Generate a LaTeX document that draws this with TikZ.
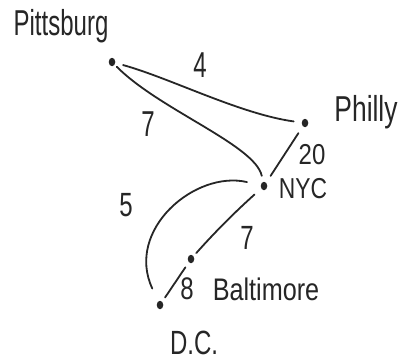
\documentclass[tikz,border=0pt]{standalone}
\usepackage{fontspec}
\setmainfont{Liberation Sans}
\usetikzlibrary{shapes.geometric}
\begin{document}
\begin{tikzpicture}[x=1pt,y=-1pt,
  dot/.style={fill=black!85,ellipse,inner sep=0pt,minimum width=6.5pt,minimum height=8.5pt},
  lbl/.style={inner sep=0pt,text=black!85,font=\fontsize{24}{24}\selectfont},
  edge/.style={draw=black!85,line width=1.8pt,line cap=round}]
\useasboundingbox (0,0) rectangle (403,361);
\fill[white] (0,0) rectangle (403,361);
% cities
\node[dot] (pit) at (112,62) {};
\node[dot] (phi) at (305,123) {};
\node[dot] (nyc) at (264,186) {};
\node[dot] (bal) at (191,259) {};
\node[dot] (dc)  at (160,305) {};
\node[lbl] (tpit) at (61,26) {\scalebox{1}[1.5]{Pittsburg}};
\node[lbl] (tphi) at (366,112) {\scalebox{1.1}[1.5]{Philly}};
\node[lbl] (tnyc) at (303,189) {\scalebox{0.95}[1.2]{NYC}};
\node[lbl] (tbal) at (266,289) {\scalebox{1.05}[1.3]{Baltimore}};
\node[lbl] (tdc)  at (194,343) {\scalebox{1}[1.4]{D.C.}};
% edges
\draw[edge,shorten <=8pt,shorten >=8pt] (pit) .. controls (170,78) and (240,114) .. (phi);
\draw[edge,shorten <=3pt,shorten >=6pt] (pit) .. controls (160,110) and (255,145) .. (nyc);
\draw[edge,shorten <=8pt,shorten >=8pt] (phi) -- (nyc);
\draw[edge,shorten <=14pt,shorten >=14pt] (nyc) .. controls (195,170) and (125,230) .. (dc);
\draw[edge,shorten <=9pt,shorten >=4pt] (nyc) .. controls (235,212) and (215,232) .. (bal);
\draw[edge,shorten <=6pt,shorten >=5pt] (bal) -- (dc);
% weights
\node[lbl] (w4)  at (200,65)  {\scalebox{1}[1.5]{4}};
\node[lbl] (w7a) at (148,124) {\scalebox{1}[1.5]{7}};
\node[lbl] (w20) at (312,155) {\scalebox{1}[1.2]{20}};
\node[lbl] (w5)  at (126,205) {\scalebox{1}[1.4]{5}};
\node[lbl] (w7b) at (247,238) {\scalebox{1}[1.4]{7}};
\node[lbl] (w8)  at (187,289) {\scalebox{1}[1.3]{8}};
\end{tikzpicture}
\end{document}
